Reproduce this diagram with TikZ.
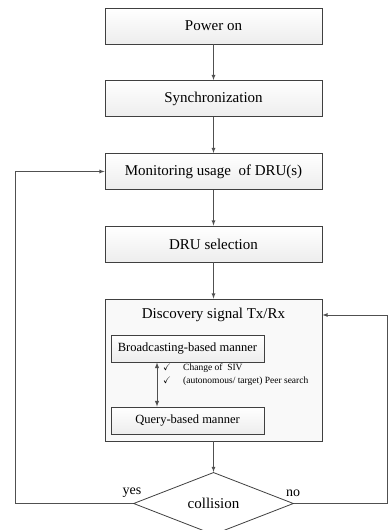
\documentclass[tikz,border=0pt]{standalone}
\usepackage{amssymb}
\usepackage{fontspec}
\setmainfont{Liberation Serif}
\usetikzlibrary{shapes.geometric}
\definecolor{edge}{HTML}{404040}
\definecolor{wire}{HTML}{505050}
\tikzset{box/.style={rectangle, draw=edge, line width=0.8pt, top color=white, bottom color=gray!14, minimum width=217pt, minimum height=36pt, font=\fontsize{15}{18}\selectfont}}
\tikzset{subbox/.style={rectangle, draw=edge, line width=0.8pt, top color=white, bottom color=gray!14, minimum width=153pt, minimum height=27pt, font=\fontsize{12.5}{15}\selectfont}}
\tikzset{arrow/.style={->, >=latex, draw=wire, line width=0.8pt}}
\tikzset{dbl-arrow/.style={<->, >=latex, draw=wire, line width=1pt}}

\begin{document}
\begin{tikzpicture}[x=1pt, y=-1pt]
  \useasboundingbox (0,0) rectangle (388,530);

  \node[box] (power) at (213.5, 26) {Power on};
  \node[box] (sync) at (213.5, 98.5) {Synchronization};
  \node[box] (monitor) at (213.5, 171.5) {Monitoring usage\ \ of DRU(s)};
  \node[box] (select) at (213.5, 244) {DRU selection};

  \node[rectangle, draw=edge, line width=0.8pt, fill=gray!5, minimum width=217pt, minimum height=142pt] (disc) at (213.5, 370) {};
  \node[font=\fontsize{15}{18}\selectfont] (disctitle) at (213.5, 315) {Discovery signal Tx/Rx};
  \node[subbox] (broad) at (187.5, 348.5) {Broadcasting-based manner};
  \node[subbox] (query) at (187.5, 420.5) {Query-based manner};
  \node[anchor=west, align=left, inner sep=0pt, font=\fontsize{9.5}{13}\selectfont] (checks) at (163, 375)
    {\makebox[20pt][l]{\checkmark}Change of\ \ SIV\\ \makebox[20pt][l]{\checkmark}(autonomous/ target) Peer search};

  \node[diamond, draw=edge, line width=0.8pt, fill=white, minimum width=160pt, minimum height=51pt, inner sep=0pt, font=\fontsize{15}{18}\selectfont] (coll) at (213.5, 503.5) {collision};
  \node[font=\fontsize{14}{16}\selectfont] (yes) at (132, 493) {yes};
  \node[font=\fontsize{14}{16}\selectfont] (no) at (293, 493) {no};

  \coordinate (leftrail) at (15, 503.5);
  \coordinate (rightrail) at (387.5, 503.5);

  \draw[arrow] (power) -- (sync);
  \draw[arrow] (sync) -- (monitor);
  \draw[arrow] (monitor) -- (select);
  \draw[arrow] (select) -- (disc);
  \draw[arrow] (disc) -- (coll);
  \draw[dbl-arrow] ([xshift=-30.5pt]broad.south) -- ([xshift=-30.5pt]query.north);

  \draw[arrow] (coll.west) -- (leftrail) |- (monitor.west);
  \draw[arrow] (coll.east) -- (rightrail) |- (disctitle -| disc.east);
\end{tikzpicture}
\end{document}
